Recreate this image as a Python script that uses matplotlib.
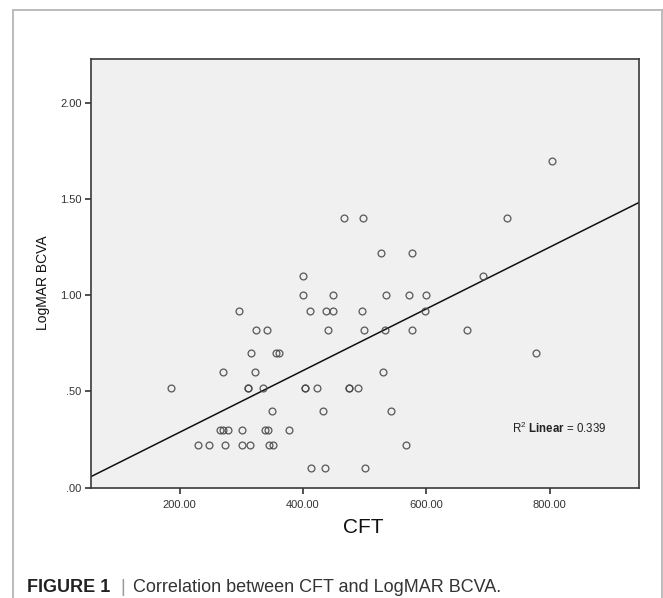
import matplotlib
matplotlib.use('Agg')
import matplotlib.pyplot as plt
from matplotlib.lines import Line2D

plt.rcParams['font.family'] = ['Liberation Sans', 'DejaVu Sans']
plt.rcParams['mathtext.fontset'] = 'custom'
plt.rcParams['mathtext.rm'] = 'Liberation Sans'
plt.rcParams['mathtext.bf'] = 'Liberation Sans:bold'

# CFT (x) and LogMAR BCVA (y); overlapping points repeated
cft = [803,
       467, 498, 731,
       527, 577,
       400, 692,
       400, 449, 534, 571, 599,
       297, 412, 437, 448, 496, 597,
       324, 341, 441, 499, 533, 577, 665,
       316, 356, 361, 778,
       271, 322, 529,
       186, 311, 311, 335, 403, 403, 423, 475, 475, 489,
       350, 432, 542,
       265, 270, 278, 301, 339, 343, 378,
       230, 248, 274, 301, 314, 345, 352, 567,
       413, 436, 501]
bcva = [1.70,
        1.40, 1.40, 1.40,
        1.22, 1.22,
        1.10, 1.10,
        1.00, 1.00, 1.00, 1.00, 1.00,
        0.92, 0.92, 0.92, 0.92, 0.92, 0.92,
        0.82, 0.82, 0.82, 0.82, 0.82, 0.82, 0.82,
        0.70, 0.70, 0.70, 0.70,
        0.60, 0.60, 0.60,
        0.52, 0.52, 0.52, 0.52, 0.52, 0.52, 0.52, 0.52, 0.52, 0.52,
        0.40, 0.40, 0.40,
        0.30, 0.30, 0.30, 0.30, 0.30, 0.30, 0.30,
        0.22, 0.22, 0.22, 0.22, 0.22, 0.22, 0.22, 0.22,
        0.10, 0.10, 0.10]

# fitted line as drawn in the figure
fit_intercept = -0.033
fit_slope = 0.001604
r2 = 0.339

x_ticks = [200, 400, 600, 800]
x_ticklabels = ['200.00', '400.00', '600.00', '800.00']
y_ticks = [0.0, 0.5, 1.0, 1.5, 2.0]
y_ticklabels = ['.00', '.50', '1.00', '1.50', '2.00']
x_lim = (56, 945)
y_lim = (0, 2.226)

W, H = 663, 598
fig = plt.figure(figsize=(W / 100, H / 100), dpi=100)
fig.patch.set_facecolor('white')

# outer frame of the figure panel (bottom runs off the image)
frame_col = '#bcbcbc'
for xs, ys in [((13, 13), (10, 600)), ((13, 662), (10, 10)), ((662, 662), (10, 600))]:
    fig.add_artist(Line2D([x / W for x in xs], [1 - y / H for y in ys],
                          color=frame_col, linewidth=1.4))

ax = fig.add_axes([90.7 / W, 1 - 487.7 / H, (639.3 - 90.7) / W, (487.7 - 59.3) / H])
ax.set_facecolor('#f0f0f0')

xs_line = list(x_lim)
ax.plot(xs_line, [fit_intercept + fit_slope * v for v in xs_line],
        color='#111111', linewidth=1.1, zorder=2)
ax.plot(cft, bcva, 'o', markerfacecolor='none', markeredgecolor='#444444',
        markersize=4.9, markeredgewidth=0.95, alpha=0.85, zorder=3)

ax.set_xlim(*x_lim)
ax.set_ylim(*y_lim)
ax.set_xticks(x_ticks)
ax.set_xticklabels(x_ticklabels)
ax.set_yticks(y_ticks)
ax.set_yticklabels(y_ticklabels)
ax.tick_params(axis='both', direction='out', length=4.5, width=1.2,
               color='#333333', labelsize=8, labelcolor='#333333')
ax.tick_params(axis='x', pad=4)
ax.tick_params(axis='y', pad=2)
for sp in ax.spines.values():
    sp.set_color('#3a3a3a')
    sp.set_linewidth(1.2)

ax.text((512 - 90.7) / 548.6, (487.7 - 433.3) / 428.4,
        r'R$^2$ $\mathbf{Linear}$ = ' + f'{r2:.3f}',
        transform=ax.transAxes, fontsize=8.3, color='#222222',
        ha='left', va='baseline')

fig.text(362.8 / W, 1 - 527.5 / H, 'CFT', fontsize=15, color='#111111',
         ha='center', va='center')
fig.text(43 / W, 1 - 283 / H, 'LogMAR BCVA', fontsize=10, color='#111111',
         rotation=90, ha='center', va='center')

# caption
fig.text(27 / W, 1 - 591.5 / H, 'FIGURE 1', fontsize=13, fontweight='bold',
         color='#222222', ha='left', va='baseline')
fig.text(122.7 / W, 1 - 591.5 / H, '|', fontsize=13, color='#999999',
         ha='center', va='baseline')
fig.text(132.7 / W, 1 - 591.5 / H, 'Correlation between CFT and LogMAR BCVA.',
         fontsize=13, color='#333333', ha='left', va='baseline')

fig.savefig('out.png', dpi=100)
plt.close(fig)
